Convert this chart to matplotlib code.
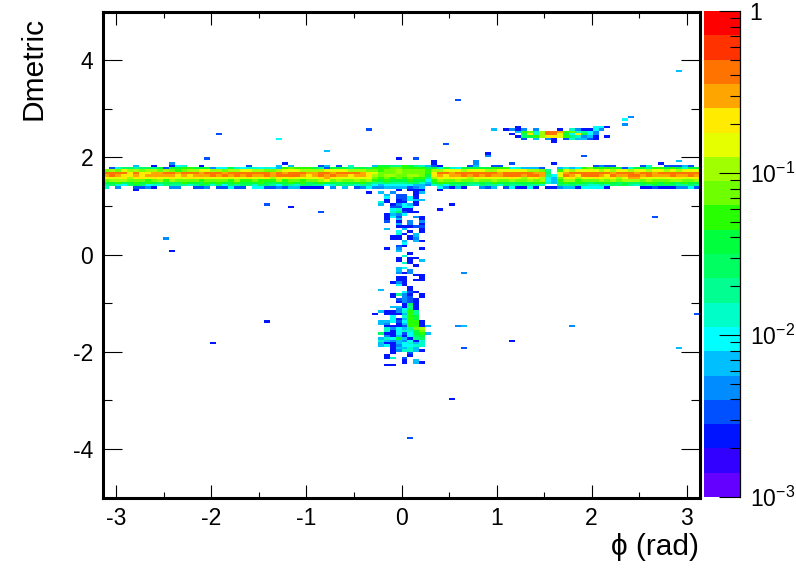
import numpy as np
import matplotlib
matplotlib.use("Agg")
import matplotlib.pyplot as plt
from matplotlib.colors import ListedColormap, BoundaryNorm
from matplotlib.ticker import FixedLocator, FixedFormatter, MultipleLocator, NullFormatter, LogLocator

plt.rcParams['font.family'] = ['Liberation Sans', 'DejaVu Sans']
plt.rcParams['mathtext.fontset'] = 'custom'
plt.rcParams['mathtext.rm'] = 'Liberation Sans'
plt.rcParams['mathtext.default'] = 'rm'

# colour bands of the z axis, lowest first (band number 1 to 20, 0 = empty bin)
band_colors = ['#6400ff', '#3200ff', '#0014ff', '#0050ff', '#008cff',
               '#00bfff', '#00ffff', '#00ffc8', '#00ff90', '#00ff60',
               '#00ff3c', '#28ff00', '#6eff00', '#a0ff00', '#e6ff00',
               '#ffeb00', '#ffa500', '#ff7300', '#ff3200', '#ff0000']

# horizontal strip: one list per Dmetric row, one band per phi bin
strip_dm = [1.825, 1.775, 1.725, 1.675, 1.625, 1.575, 1.525, 1.475, 1.425, 1.375]
strip_182 = [0,0,0,0,0,6,0,0,3,0, 0,3,7,8,0,0,3,0,0,0, 0,0,0,0,4,0,0,0,0,6, 0,6,0,0,0,0,4,6,0,4, 0,8,0,0,0,6,11,11,9,9,
             12,11,9,8,6,4,3,0,0,0, 0,4,6,0,0,4,4,0,0,0, 0,0,0,0,0,0,0,0,0,0, 0,0,4,5,4,4,0,0,0,0, 4,8,0,0,4,4,4,6,4,0]
strip_177 = [0,4,8,10,10,9,10,10,9,11, 4,11,11,12,12,11,11,11,5,7, 7,11,8,7,8,8,7,8,7,6, 12,13,12,12,12,11,9,4,11,11, 11,9,11,11,10,12,12,12,13,13,
             12,12,12,12,10,11,8,11,8,7, 11,11,11,11,11,12,12,12,7,8, 6,6,6,4,0,0,6,8,6,7, 12,13,12,12,12,12,11,4,8,11, 11,9,12,12,11,12,11,8,11,11]
strip_172 = [13,14,13,15,14,14,13,14,14,13, 14,13,12,13,14,14,15,15,14,14, 13,14,14,15,15,14,14,13,13,14, 15,15,15,14,14,14,14,15,15,15, 15,14,14,14,13,13,12,13,13,14,
             13,13,13,13,12,14,14,15,15,15, 14,15,15,15,14,14,15,15,15,15, 15,14,14,13,9,0,12,15,14,15, 15,15,15,14,15,14,15,15,14,15, 15,14,15,15,14,15,14,15,15,15]
strip_167 = [18,18,18,18,16,18,16,16,17,17, 18,18,17,18,18,18,17,18,18,18, 17,18,18,18,18,18,18,18,17,18, 17,18,18,18,17,17,18,18,17,18, 18,18,18,17,16,15,13,13,13,14,
             13,13,13,13,12,16,18,18,17,18, 18,18,18,18,18,18,17,18,18,18, 18,18,17,17,10,0,15,17,18,18, 18,18,18,18,18,17,18,18,18,17, 18,18,17,18,18,18,18,18,18,18]
strip_162 = [17,18,17,16,16,17,16,17,17,17, 17,17,16,17,16,17,17,17,18,17, 18,17,18,17,18,17,17,18,17,18, 18,18,18,17,16,17,18,17,18,17, 17,16,17,17,16,14,13,14,14,13,
             13,14,14,13,11,16,17,16,17,17, 18,17,18,17,18,17,17,18,18,18, 17,18,18,17,9,7,15,18,17,16, 18,18,18,17,16,18,17,17,18,18, 17,18,17,17,17,18,17,17,18,17]
strip_157 = [15,15,15,16,14,16,16,15,16,15, 15,16,15,15,16,16,16,15,15,15, 15,15,15,15,16,15,15,16,14,16, 15,16,15,15,15,15,16,17,16,15, 15,15,15,15,15,13,12,13,12,13,
             12,13,12,12,9,14,16,15,16,15, 15,14,15,15,15,15,15,15,16,15, 14,15,16,14,7,6,13,15,16,14, 15,15,16,15,15,16,14,15,17,17, 16,15,15,15,15,15,16,15,15,16]
strip_152 = [13,14,14,14,13,13,13,12,13,14, 12,14,13,13,13,13,12,13,13,13, 13,12,14,12,12,13,12,12,12,14, 12,13,13,12,13,13,14,15,13,14, 13,13,14,13,14,12,11,12,11,11,
             11,12,11,11,7,12,14,13,13,14, 13,13,14,13,13,14,13,13,14,13, 13,14,13,14,7,6,12,14,14,12, 13,13,13,14,13,14,13,14,14,14, 13,14,13,13,13,14,14,13,13,14]
strip_147 = [11,11,12,10,11,12,11,12,11,10, 11,10,10,12,11,11,10,12,11,12, 11,11,12,11,11,11,12,11,10,11, 11,12,11,12,10,11,12,11,11,10, 11,11,11,12,10,9,9,10,9,9,
             9,10,10,8,6,11,12,12,11,11, 11,10,10,11,10,12,11,11,10,11, 11,11,12,12,8,6,11,12,11,12, 11,10,11,11,12,11,10,11,10,10, 11,12,12,11,12,11,10,12,11,11]
strip_142 = [9,10,8,7,10,11,10,7,8,8, 10,9,9,9,8,9,11,10,8,10, 7,10,9,10,10,8,10,10,9,7, 10,9,8,10,10,9,9,7,8,10, 9,9,8,9,9,7,6,7,7,7,
             7,7,6,6,5,8,9,7,10,9, 10,9,8,10,9,9,8,10,9,9, 10,9,9,8,0,0,10,9,10,9, 9,8,8,9,8,10,10,11,9,8, 10,9,11,10,10,10,9,9,10,9]
strip_137 = [8,0,5,0,0,4,4,5,3,0, 0,5,5,0,0,4,4,5,0,4, 4,7,4,4,0,7,7,4,4,5, 4,6,6,3,3,3,3,0,5,0, 6,0,4,5,7,5,5,6,6,6,
             6,4,5,6,0,0,7,5,3,6, 3,0,0,5,4,6,0,4,7,3, 3,7,3,0,3,3,5,6,6,3, 7,7,7,7,3,0,0,0,0,0, 3,3,4,3,3,3,5,5,7,4]

# vertical stem near phi = 0
stem_phi = [-0.220, -0.157, -0.094, -0.031, 0.031, 0.094, 0.157, 0.220, 0.283]
stem_dm = [1.325, 1.275, 1.225, 1.175, 1.125, 1.075, 1.025, 0.975, 0.925, 0.875,
           0.825, 0.775, 0.725, 0.675, 0.625, 0.575, 0.525, 0.475, 0.425, 0.375,
           0.325, 0.275, 0.225, 0.175, 0.125, 0.075, 0.025, -0.025, -0.075, -0.125,
           -0.175, -0.225, -0.275, -0.325, -0.375, -0.425, -0.475, -0.525, -0.575, -0.625,
           -0.675, -0.725, -0.775, -0.825, -0.875, -0.925, -0.975, -1.025, -1.075, -1.125,
           -1.175, -1.225, -1.275, -1.325, -1.375, -1.425, -1.475, -1.525, -1.575, -1.625,
           -1.675, -1.725, -1.775, -1.825, -1.875, -1.925, -1.975, -2.025, -2.075, -2.125,
           -2.175, -2.225, -2.275]
stem_bands = [
    [0,0,0,3,0,3,3,3,0], [5,0,5,0,0,0,3,6,0], [0,6,0,4,4,0,3,0,0], [0,7,0,4,4,7,3,0,0],
    [0,3,0,3,4,7,6,6,0], [8,3,0,3,3,0,3,0,0], [6,0,3,5,7,6,3,0,0], [0,0,4,4,7,7,0,0,0],
    [0,0,7,8,3,3,0,0,0], [0,0,8,10,4,3,3,0,0], [0,3,6,5,7,0,0,0,0], [0,3,7,4,0,0,5,3,0],
    [0,3,0,6,0,0,0,3,0], [0,4,0,3,0,5,0,5,0], [0,0,0,6,0,5,0,3,0], [0,0,0,3,3,3,4,4,0],
    [0,6,0,0,6,0,0,3,0], [0,0,0,7,0,3,0,3,0], [0,0,0,8,3,0,6,0,0], [0,0,3,3,0,3,6,0,0],
    [0,0,3,3,0,3,5,0,0], [0,0,0,0,6,0,6,3,0], [0,0,0,0,7,0,0,0,0], [0,0,0,4,3,0,0,0,0],
    [0,3,0,5,0,0,0,3,0], [0,0,0,6,0,0,0,0,0], [0,0,0,0,0,3,0,0,0], [0,0,0,0,8,0,0,0,0],
    [0,0,0,3,0,3,3,0,0], [0,0,0,3,0,3,0,6,0], [0,0,0,0,8,3,0,0,0], [0,0,0,0,0,0,3,0,0],
    [0,0,0,6,7,0,0,0,0], [0,0,0,6,0,5,0,0,0], [0,0,0,5,3,5,0,0,0], [0,0,0,0,0,0,3,3,0],
    [0,0,0,3,3,0,0,3,0], [0,0,0,3,3,0,3,3,0], [0,0,3,5,3,0,0,0,0], [0,0,0,7,3,0,0,0,0],
    [0,0,0,0,0,3,0,0,0], [6,0,0,0,0,3,0,0,0], [0,0,0,0,7,4,3,0,0], [0,0,3,9,5,3,0,3,0],
    [0,0,3,0,5,4,0,3,0], [0,0,0,4,5,4,3,0,0], [0,0,0,3,5,4,3,0,0], [0,0,0,0,3,10,3,0,0],
    [0,0,6,6,3,9,3,0,0], [0,0,0,5,7,10,3,0,0], [6,3,3,5,8,12,9,0,0], [0,3,3,3,6,12,9,0,0],
    [0,0,7,0,8,12,11,0,0], [0,0,7,3,6,12,11,0,0], [6,6,7,4,7,12,12,3,0], [6,5,0,3,6,12,12,3,0],
    [0,3,3,3,4,12,12,3,6], [0,8,5,7,6,9,13,14,0], [0,8,3,7,8,8,11,13,0], [10,3,3,7,4,7,11,12,6],
    [0,5,3,6,3,7,10,11,0], [6,8,7,11,6,3,9,10,0], [8,6,5,6,5,7,3,8,0], [6,3,3,6,7,8,6,8,0],
    [6,7,3,5,7,7,8,8,0], [0,0,3,6,6,8,6,0,0], [0,0,3,5,8,8,6,3,0], [0,0,3,0,0,4,0,0,0],
    [0,3,0,0,0,3,0,0,0], [0,3,8,0,4,0,0,0,0], [0,0,0,0,3,0,6,0,0], [0,0,0,0,3,0,6,3,0],
    [0,3,3,0,0,0,0,0,0]]

# small blob at Dmetric about 2.5
arm_phi = [0.974, 1.037, 1.100, 1.162, 1.225, 1.288, 1.351, 1.414, 1.476, 1.539,
           1.602, 1.665, 1.728, 1.791, 1.853, 1.916, 1.979, 2.042, 2.105, 2.168]
arm_dm = [2.625, 2.575, 2.525, 2.475, 2.425, 2.375, 2.325]
arm_bands = [
    [0,0,0,0,3,0,0,0,0,0,0,0,0,0,0,0,0,7,7,3],
    [6,0,3,5,3,5,0,5,0,0,0,3,0,8,5,3,3,7,5,0],
    [0,0,0,0,6,12,13,8,14,18,18,17,12,13,8,9,7,5,0,0],
    [0,0,0,3,0,10,16,8,14,18,18,15,11,7,16,11,7,5,0,0],
    [0,0,0,0,3,10,11,12,14,16,16,15,12,9,8,5,6,3,0,3],
    [0,0,0,0,0,4,0,6,0,5,3,0,4,8,6,6,4,3,0,0],
    [0,0,0,0,0,0,0,0,0,0,3,0,0,0,0,0,0,0,0,0]]

# isolated bins
stray_phi = [2.91, 0.585, -0.34, -1.93, -1.29, 0.48, 0.96, 1.09, -2.06, -2.42, -0.81, -0.04, -1.23,
             -2.80, -0.34, -0.21, -1.41, -1.16, 0.91, 0.91, 1.92, 2.92, 0.78, 0.78, 0.78, 0.34, 0.34,
             0.14, 1.59, 1.16, 2.73, 0.39, 0.52, 0.39, 2.65, -0.85, -2.48, -2.41, 0.67, 0.60, 0.66,
             1.16, 1.79, 3.08, 2.91, -1.41, -1.98, 0.66, 0.53, 0.08, 2.42, 2.36, 2.36, -0.33, -0.27]
stray_dm = [3.80, 3.20, 2.56, 2.46, 2.40, 2.30, 2.60, 2.60, 1.97, 1.87, 2.11, 2.00, 1.88,
            1.35, 1.28, 1.28, 1.04, 1.00, 2.07, 2.03, 2.04, 1.94, 1.94, 1.89, 1.86, 1.94, 1.90,
            1.98, 1.88, 1.88, 1.88, 1.35, 1.04, 0.93, 0.79, 0.86, 0.34, 0.10, -0.38, -1.49, -1.49,
            -1.76, -1.45, -1.20, -1.90, -1.37, -1.80, -1.90, -2.95, -3.75, 2.85, 2.80, 2.70, 1.27, -1.22]
stray_band = [6, 4, 4, 4, 7, 4, 6, 3, 4, 5, 6, 3, 3,
              3, 3, 6, 4, 3, 3, 5, 4, 6, 5, 5, 5, 3, 3,
              4, 3, 4, 3, 3, 3, 3, 4, 4, 5, 3, 5, 5, 6,
              3, 5, 4, 6, 3, 3, 4, 3, 4, 5, 7, 5, 3, 3]

x_ticks = [-3, -2, -1, 0, 1, 2, 3]
y_ticks = [-4, -2, 0, 2, 4]
z_ticks = [1e-3, 1e-2, 1e-1, 1]
z_labels = ['$10^{-3}$', '$10^{-2}$', '$10^{-1}$', '1']

# band numbers stand for the middle of each log-spaced colour band
z_edges = np.logspace(-3, 0, len(band_colors) + 1)
z_mid = np.sqrt(z_edges[:-1] * z_edges[1:])
cmap = ListedColormap(band_colors)
cmap.set_bad('white')
norm = BoundaryNorm(z_edges, cmap.N)

phi_edges = np.linspace(-np.pi, np.pi, 101)
dm_edges = np.linspace(-5, 5, 201)
phi_mid = (phi_edges[:-1] + phi_edges[1:]) / 2
z = np.zeros((200, 100))


def add_cell(phi, dm, band):
    if band > 0:
        i = np.searchsorted(dm_edges, dm) - 1
        j = np.searchsorted(phi_edges, phi) - 1
        z[i, j] = z_mid[band - 1]


strip_rows = [strip_182, strip_177, strip_172, strip_167, strip_162,
              strip_157, strip_152, strip_147, strip_142, strip_137]
for dm, row in zip(strip_dm, strip_rows):
    for phi, band in zip(phi_mid, row):
        add_cell(phi, dm, band)
for dm, row in zip(stem_dm, stem_bands):
    for phi, band in zip(stem_phi, row):
        add_cell(phi, dm, band)
for dm, row in zip(arm_dm, arm_bands):
    for phi, band in zip(arm_phi, row):
        add_cell(phi, dm, band)
for phi, dm, band in zip(stray_phi, stray_dm, stray_band):
    add_cell(phi, dm, band)

W, H = 796, 572
fig = plt.figure(figsize=(W / 100, H / 100), dpi=100)
ax = fig.add_axes([103 / W, 1 - 497.5 / H, 597 / W, 486 / H])
ax.pcolormesh(phi_edges, dm_edges, np.ma.masked_equal(z, 0), cmap=cmap, norm=norm,
              antialiased=False, linewidth=0)
ax.set_xlim(-np.pi, np.pi)
ax.set_ylim(-5, 5)
for s in ax.spines.values():
    s.set_linewidth(2.2)
ax.set_xticks(x_ticks)
ax.set_yticks(y_ticks)
ax.xaxis.set_minor_locator(MultipleLocator(0.5))
ax.yaxis.set_minor_locator(MultipleLocator(1))
ax.tick_params(axis='x', which='major', direction='in', length=9.4, width=0.8, labelsize=16.5, pad=7, top=True)
ax.tick_params(axis='x', which='minor', direction='in', length=4.4, width=0.8, top=True)
ax.tick_params(axis='y', which='major', direction='in', length=13.5, width=0.8, labelsize=16.5, pad=7, right=True)
ax.tick_params(axis='y', which='minor', direction='in', length=6.5, width=0.8, right=True)
ax.xaxis.set_major_formatter(FixedFormatter(['-3', '-2', '-1', '0', '1', '2', '3']))
ax.yaxis.set_major_formatter(FixedFormatter(['-4', '-2', '0', '2', '4']))

fig.text(699 / W, 1 - 547 / H, '\u03d5 (rad)', ha='right', va='center', fontsize=21.5)
fig.text(34 / W, 1 - 17 / H, 'Dmetric', ha='center', va='top', rotation=90, fontsize=21.5)

# colour scale
cax = fig.add_axes([704 / W, 1 - 497 / H, 36 / W, 486 / H])
cax.pcolormesh([0, 1], z_edges, np.arange(20)[:, None], cmap=cmap, vmin=-0.5, vmax=19.5,
               antialiased=False, linewidth=0)
cax.set_yscale('log')
cax.set_ylim(1e-3, 1)
cax.set_xticks([])
for name in ['top', 'bottom', 'left']:
    cax.spines[name].set_visible(False)
cax.spines['right'].set_linewidth(0.9)
cax.yaxis.tick_right()
cax.yaxis.set_major_locator(FixedLocator(z_ticks))
cax.yaxis.set_major_formatter(FixedFormatter(z_labels))
cax.yaxis.set_minor_locator(LogLocator(base=10, subs=np.arange(2, 10) * 0.1, numticks=10))
cax.yaxis.set_minor_formatter(NullFormatter())
cax.tick_params(axis='y', which='major', direction='in', length=15, width=0.8, labelsize=16.5, pad=7)
cax.tick_params(axis='y', which='minor', direction='in', length=7.5, width=0.8)

fig.savefig('out.png', dpi=100, facecolor='white')
